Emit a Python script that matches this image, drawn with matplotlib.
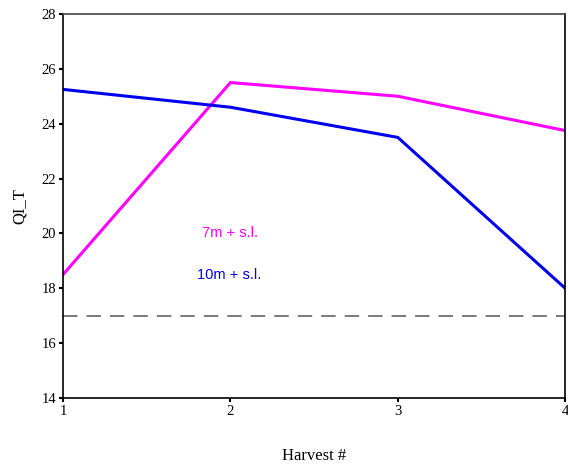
import matplotlib
matplotlib.use("Agg")
import matplotlib.pyplot as plt

harvest = [1, 2, 3, 4]
qi_7m = [18.5, 25.5, 25.0, 23.75]
qi_10m = [25.25, 24.6, 23.5, 18.0]
threshold = 17.0
yticks = [14, 16, 18, 20, 22, 24, 26, 28]

serif = ['Liberation Serif', 'DejaVu Serif']
sans = ['Liberation Sans', 'DejaVu Sans']

fig = plt.figure(figsize=(5.68, 4.66), dpi=100)
ax = fig.add_axes([0.111, 0.146, 0.884, 0.824])

ax.plot(harvest, qi_7m, color='#ff00ff', lw=2.2, solid_joinstyle='miter')
ax.plot(harvest, qi_10m, color='#0000ee', lw=2.2, solid_joinstyle='miter')
ax.axhline(threshold, color='#707070', lw=1.3, dashes=(8, 5))

ax.text(1.83, 20.0, '7m + s.l.', color='#ff00ff', fontsize=10.5,
        family=sans, va='center')
ax.text(1.80, 18.5, '10m + s.l.', color='#0000ee', fontsize=10.5,
        family=sans, va='center')

ax.set_xlim(1, 4)
ax.set_ylim(14, 28)
ax.set_xticks(harvest)
ax.set_yticks(yticks)
for lab in ax.get_xticklabels() + ax.get_yticklabels():
    lab.set_family(serif)
    lab.set_fontsize(10.5)
ax.tick_params(direction='out', length=3, width=1.5, pad=2)

ax.set_xlabel('Harvest #', family=serif, fontsize=12, labelpad=22)
ax.set_ylabel('QI_T', family=serif, fontsize=12, labelpad=10)

for s in ax.spines.values():
    s.set_linewidth(1.2)
ax.spines['top'].set_color('#444444')

fig.savefig('out.png', dpi=100)
